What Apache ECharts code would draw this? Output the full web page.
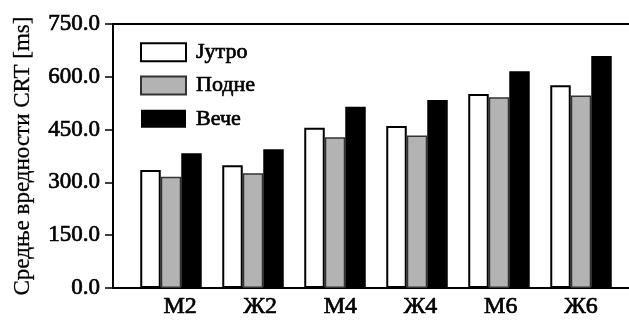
<!DOCTYPE html>
<html><head><meta charset="utf-8">
<script src="https://cdn.jsdelivr.net/npm/echarts@6/dist/echarts.min.js"></script>
<style>html,body{margin:0;padding:0;background:#fff}#c{width:629px;height:320px}</style>
</head><body><div id="c"></div>
<script>
const categories = ['M2', 'Ж2', 'M4', 'Ж4', 'M6', 'Ж6'];
const morning = [335, 349, 455, 460, 551, 576];
const noon = [316, 326, 428, 433, 542, 547];
const evening = [383, 394, 515, 534, 616, 659];
const yTicks = [0, 150, 300, 450, 600, 750];
const seriesNames = ['Јутро', 'Подне', 'Вече'];
const yTitle = 'Средње вредности CRT [ms]';

const FONT = '"Liberation Serif","Times New Roman",serif';
const heavy = {fontFamily: FONT, color: '#000', textBorderColor: '#000', textBorderWidth: 0.7};
const chart = echarts.init(document.getElementById('c'), null, {renderer: 'canvas'});
const gTop = 24, gBottom = 32;
chart.setOption({
  animation: false,
  textStyle: {fontFamily: FONT},
  grid: [
    {left: 113, right: 0, top: gTop, bottom: gBottom},
    {left: 130, right: 7, top: gTop, bottom: gBottom},
    {left: 140, right: 8, top: gTop, bottom: gBottom}
  ],
  legend: {
    orient: 'vertical', left: 135, top: 36,
    itemWidth: 45, itemHeight: 18, itemGap: 10.5,
    textStyle: Object.assign({fontSize: 22, padding: [0,0,0,5]}, heavy),
    data: seriesNames.map(n => ({name: n, icon: 'rect'}))
  },
  xAxis: [
    {type: 'value', gridIndex: 0, position: 'bottom', min: 0, max: 1,
     axisLine: {show: true, lineStyle: {color: '#000', width: 2}}, axisTick: {show: false},
     axisLabel: {show: false}, splitLine: {show: false}},
    {type: 'value', gridIndex: 0, position: 'top', min: 0, max: 1,
     axisLine: {show: true, lineStyle: {color: '#000', width: 2}}, axisTick: {show: false},
     axisLabel: {show: false}, splitLine: {show: false}},
    {type: 'category', gridIndex: 1, data: categories,
     axisLine: {show: false}, axisTick: {show: false}, axisLabel: {show: false}},
    {type: 'category', gridIndex: 2, data: categories,
     axisLine: {show: false}, axisTick: {show: false},
     axisLabel: Object.assign({fontSize: 24, margin: 7}, heavy)}
  ],
  yAxis: [
    {type: 'value', gridIndex: 0, min: 0, max: 750, interval: 150,
     name: yTitle, nameLocation: 'middle', nameGap: 79,
     nameTextStyle: {fontFamily: FONT, fontSize: 23, color: '#000', textBorderColor: '#000', textBorderWidth: 0.3},
     axisLine: {show: true, lineStyle: {color: '#000', width: 2}},
     axisTick: {show: true, length: 8, lineStyle: {color: '#000', width: 1.5}},
     axisLabel: Object.assign({fontSize: 23, margin: 13, formatter: v => v.toFixed(1)}, heavy),
     splitLine: {show: false}},
    {type: 'value', gridIndex: 1, min: 0, max: 750, interval: 150, show: false},
    {type: 'value', gridIndex: 2, min: 0, max: 750, interval: 150, show: false}
  ],
  series: [
    {name: seriesNames[0], type: 'bar', xAxisIndex: 2, yAxisIndex: 1, data: morning,
     barWidth: 20.5, barGap: '0%',
     itemStyle: {color: '#fff', borderColor: '#000', borderWidth: 2}},
    {name: seriesNames[1], type: 'bar', xAxisIndex: 2, yAxisIndex: 1, data: noon,
     barWidth: 20.5, barGap: '0%',
     itemStyle: {color: '#b3b3b3', borderColor: '#333', borderWidth: 1.5}},
    {name: seriesNames[2], type: 'bar', xAxisIndex: 2, yAxisIndex: 1, data: evening,
     barWidth: 20.5, barGap: '0%',
     itemStyle: {color: '#000', borderColor: '#000', borderWidth: 0}}
  ]
});
</script></body></html>
